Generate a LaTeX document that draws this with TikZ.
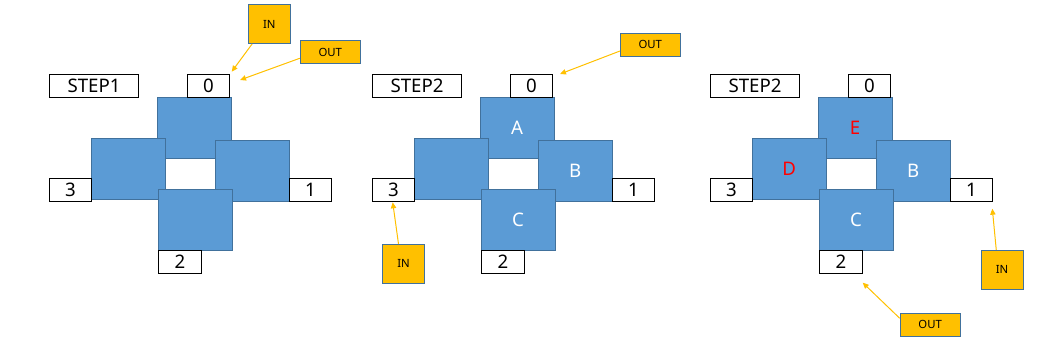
\documentclass[tikz,border=0pt]{standalone}
\usepackage{fontspec}
\setmainfont{Noto Sans}
\usetikzlibrary{arrows.meta}
\definecolor{cellfill}{HTML}{5B9BD5}
\definecolor{cellline}{HTML}{41719C}
\definecolor{tagfill}{HTML}{FFC000}

\begin{document}
\begin{tikzpicture}[x=0.75pt,y=-0.75pt,>={Triangle[length=4.5pt,width=4pt]},
  port/.style={draw,fill=white,line width=0.75pt,inner sep=0pt,minimum width=31.8pt,
    minimum height=17.25pt,font=\fontsize{14}{14}\selectfont},
  stepbox/.style={port,minimum width=67pt},
  cell/.style={draw=cellline,fill=cellfill,line width=0.75pt,inner sep=0pt,minimum width=55.5pt,
    minimum height=45.75pt,text=white,font=\fontsize{14}{14}\selectfont},
  tag/.style={draw=cellline,fill=tagfill,line width=0.75pt,inner sep=0pt,
    font=\fontsize{8.5}{8.5}\selectfont},
  flow/.style={->,tagfill,line width=0.75pt}]
  \useasboundingbox (0,0) rectangle (1041,349);

  % step 1
  \node[cell] (top1) at (194,127.8) {};
  \node[cell] (rgt1) at (252.3,171.3) {};
  \node[cell] (lft1) at (128.2,168.8) {};
  \node[cell] (bot1) at (195,219.8) {};
  \node[stepbox] (step1) at (94,85.8) {STEP1};
  \node[port] (zero1) at (208.5,85.8) {0};
  \node[port] (one1) at (310.5,189.8) {1};
  \node[port,minimum width=32.5pt] (two1) at (180,261.8) {2};
  \node[port] (three1) at (70.5,189.8) {3};
  \node[tag,minimum width=31.5pt,minimum height=29pt] (in1) at (269.3,24) {IN};
  \node[tag,minimum width=45pt,minimum height=17pt] (out1) at (330.3,52) {OUT};
  \coordinate (in1end) at (231.7,71.7);
  \coordinate (out1end) at (240,80);
  \draw[flow] ([xshift=3.3pt]in1.south west) -- (in1end);
  \draw[flow] ([yshift=-4.7pt]out1.west) -- (out1end);

  % step 2
  \begin{scope}[xshift=242.25pt]
    \node[cell] (top2) at (194,127.8) {A};
    \node[cell] (rgt2) at (252.3,171.3) {B};
    \node[cell] (lft2) at (128.2,168.8) {};
    \node[cell] (bot2) at (195,219.8) {C};
    \node[stepbox] (step2) at (94,85.8) {STEP2};
    \node[port] (zero2) at (208.5,85.8) {0};
    \node[port] (one2) at (310.5,189.8) {1};
    \node[port,minimum width=32.5pt] (two2) at (180,261.8) {2};
    \node[port] (three2) at (70.5,189.8) {3};
    \node[tag,minimum width=31.5pt,minimum height=29pt] (in2) at (80.5,263.8) {IN};
    \node[tag,minimum width=45pt,minimum height=17pt] (out2) at (327.3,44.8) {OUT};
    \coordinate (in2end) at (69.7,202.3);
    \coordinate (out2end) at (237,74);
    \draw[flow] ([xshift=-3.75pt]in2.north) -- (in2end);
    \draw[flow] ([yshift=-4.7pt]out2.west) -- (out2end);
  \end{scope}

  % step 3
  \begin{scope}[xshift=495.75pt]
    \node[cell,text=red] (top3) at (194,127.8) {E};
    \node[cell] (rgt3) at (252.3,171.3) {B};
    \node[cell,text=red] (lft3) at (128.2,168.8) {D};
    \node[cell] (bot3) at (195,219.8) {C};
    \node[stepbox] (step3) at (94,85.8) {STEP2};
    \node[port] (zero3) at (208.5,85.8) {0};
    \node[port] (one3) at (310.5,189.8) {1};
    \node[port,minimum width=32.5pt] (two3) at (180,261.8) {2};
    \node[port] (three3) at (70.5,189.8) {3};
    \node[tag,minimum width=31.5pt,minimum height=29pt] (in3) at (341,269.8) {IN};
    \node[tag,minimum width=45pt,minimum height=17pt] (out3) at (269.2,324.8) {OUT};
    \coordinate (in3end) at (331.3,208.7);
    \coordinate (out3end) at (201.7,282.7);
    \draw[flow] ([xshift=-4.3pt]in3.north) -- (in3end);
    \draw[flow] ([yshift=4.9pt]out3.west) -- (out3end);
  \end{scope}
\end{tikzpicture}
\end{document}
